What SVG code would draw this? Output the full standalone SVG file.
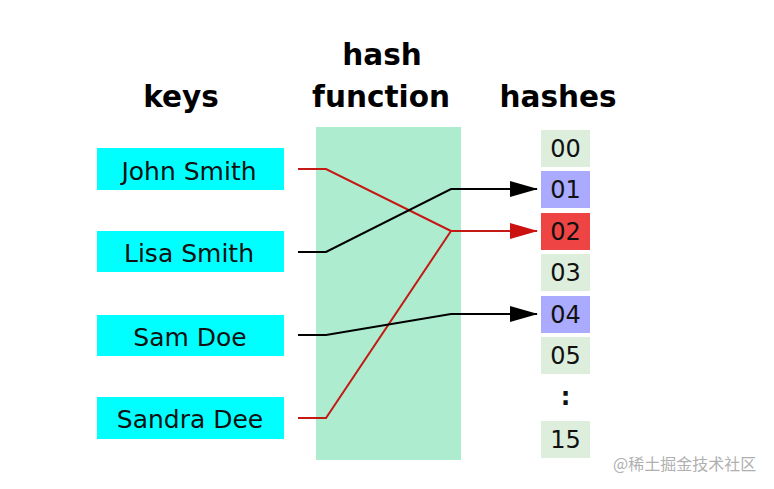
<svg xmlns="http://www.w3.org/2000/svg" width="774" height="489" viewBox="0 0 774 489">
<style>
.h{font-family:"DejaVu Sans",sans-serif;font-weight:bold;font-size:29.5px;fill:#000;text-anchor:middle}
.k{fill:#00ffff}
.kt{font-family:"DejaVu Sans",sans-serif;font-size:25px;fill:#111;text-anchor:middle}
.c{fill:#ddeedd}
.b{fill:#aaaaff}
.r{fill:#ee4444}
.ct{font-family:"DejaVu Sans",sans-serif;font-size:24px;fill:#111;text-anchor:middle}
.ln{fill:none;stroke-width:2;stroke-linejoin:miter}
.blk{stroke:#000}
.red{stroke:#c41a14}
</style>
<defs>
<marker id="ab" markerUnits="userSpaceOnUse" markerWidth="28" markerHeight="16" refX="27" refY="8" orient="auto"><path d="M0,0 L28,8 L0,16 Z" fill="#000"/></marker>
<marker id="ar" markerUnits="userSpaceOnUse" markerWidth="28" markerHeight="16" refX="27" refY="8" orient="auto"><path d="M0,0 L28,8 L0,16 Z" fill="#cc1111"/></marker>
</defs>
<rect width="774" height="489" fill="#fff"/>
<g id="titles">
<text class="h" x="382" y="65">hash</text>
<text class="h" x="381" y="107">function</text>
<text class="h" x="181" y="107">keys</text>
<text class="h" x="558" y="107">hashes</text>
</g>
<g id="hashfunction"><rect x="316" y="127" width="145" height="333" fill="#aeecd0"/></g>
<g id="key-john"><rect class="k" x="97" y="148" width="187" height="42"/><text class="kt" x="189" y="180">John Smith</text></g>
<g id="key-lisa"><rect class="k" x="97" y="231" width="187" height="41"/><text class="kt" x="189" y="262">Lisa Smith</text></g>
<g id="key-sam"><rect class="k" x="97" y="315" width="187" height="41"/><text class="kt" x="190" y="346">Sam Doe</text></g>
<g id="key-sandra"><rect class="k" x="97" y="397" width="187" height="42"/><text class="kt" x="190" y="428">Sandra Dee</text></g>
<g id="hash-00"><rect class="c" x="541" y="130" width="49" height="37"/><text class="ct" x="565.5" y="157">00</text></g>
<g id="hash-01"><rect class="b" x="541" y="171" width="49" height="37"/><text class="ct" x="565.5" y="198">01</text></g>
<g id="hash-02"><rect class="r" x="541" y="213" width="49" height="37"/><text class="ct" x="565.5" y="240">02</text></g>
<g id="hash-03"><rect class="c" x="541" y="254" width="49" height="37"/><text class="ct" x="565.5" y="281">03</text></g>
<g id="hash-04"><rect class="b" x="541" y="296" width="49" height="37"/><text class="ct" x="565.5" y="323">04</text></g>
<g id="hash-05"><rect class="c" x="541" y="337" width="49" height="37"/><text class="ct" x="565.5" y="364">05</text></g>
<g id="hash-dots"><text class="ct" x="565.5" y="405" font-weight="bold">:</text></g>
<g id="hash-15"><rect class="c" x="541" y="421" width="49" height="37"/><text class="ct" x="565.5" y="448">15</text></g>
<g id="connectors">
<polyline class="ln red" points="298,169 326,169 451,231"/>
<polyline class="ln red" points="298,418 326,418 451,231"/>
<polyline class="ln red" points="451,231 537,231" marker-end="url(#ar)"/>
<polyline class="ln blk" points="298,252 326,252 451,189 537,189" marker-end="url(#ab)"/>
<polyline class="ln blk" points="298,335 326,335 451,314 537,314" marker-end="url(#ab)"/>
</g>
<text x="613" y="470" font-family="'Noto Sans CJK SC',sans-serif" font-size="16" fill="#b0b0b0">@稀土掘金技术社区</text>
</svg>
